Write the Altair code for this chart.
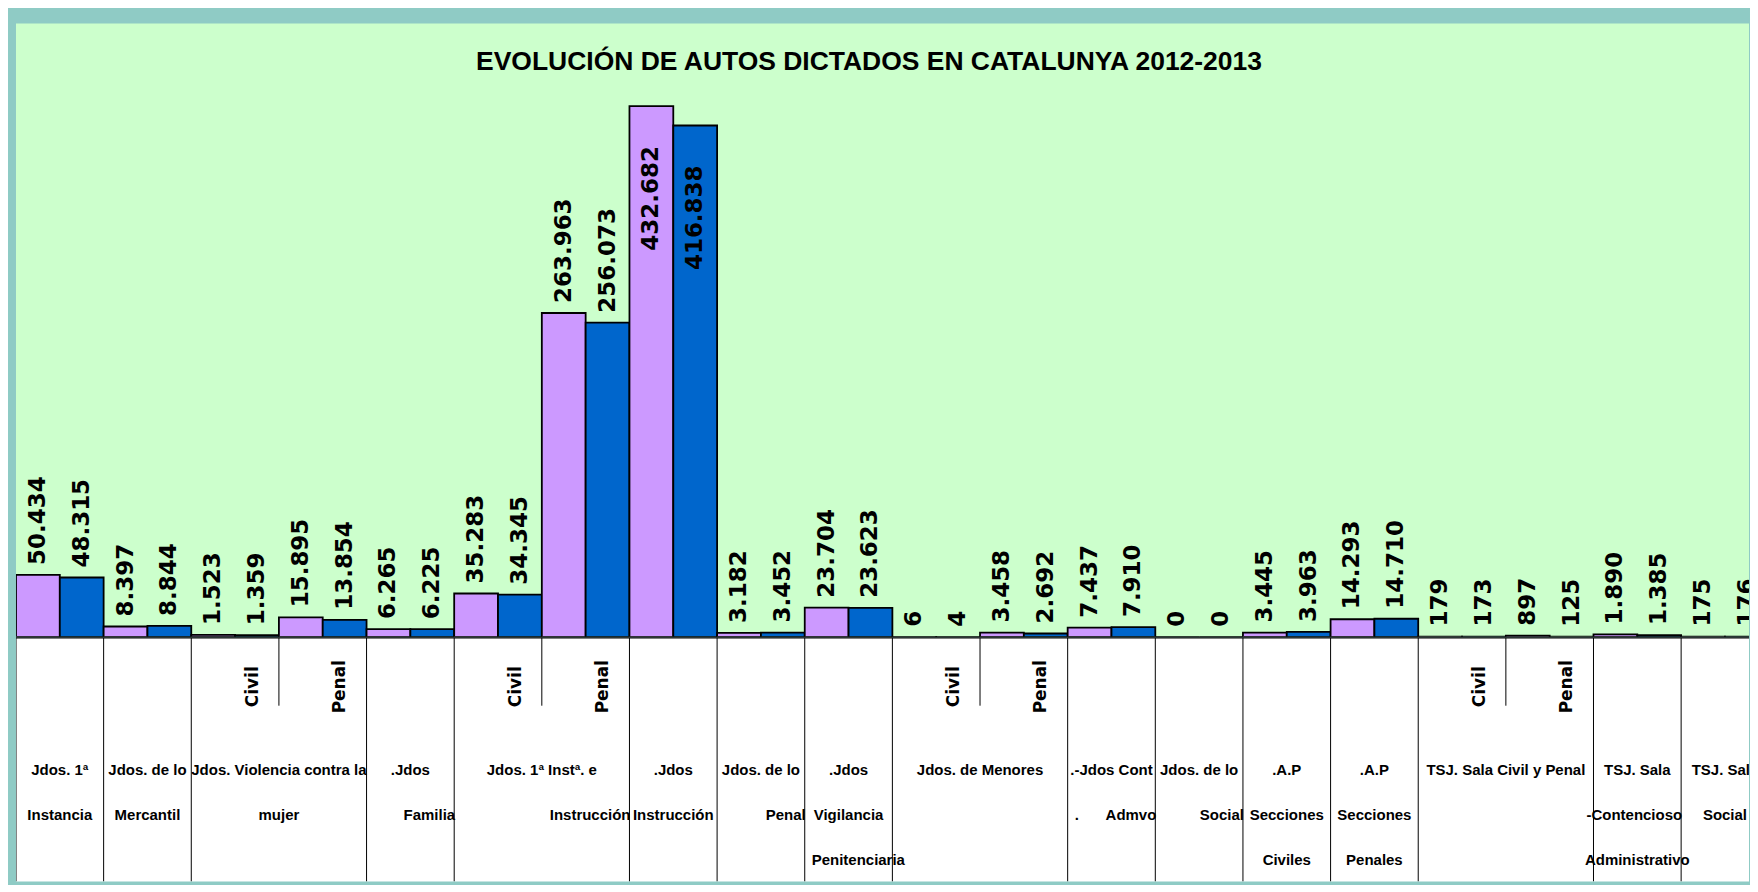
import altair as alt
import pandas as pd

# ---------------- data ----------------
TITLE = "EVOLUCIÓN DE AUTOS DICTADOS EN CATALUNYA 2012-2013"
SERIES = ["2012", "2013"]
COLORS = ["#CC99FF", "#0066CC"]

V2012 = [50434, 8397, 1523, 15895, 6265, 35283, 263963, 432682, 3182, 23704,
         6, 3458, 7437, 0, 3445, 14293, 179, 897, 1890, 175]
V2013 = [48315, 8844, 1359, 13854, 6225, 34345, 256073, 416838, 3452, 23623,
         4, 2692, 7910, 0, 3963, 14710, 173, 125, 1385, 176]

SUBLABELS = ["", "", "Civil", "Penal", "", "Civil", "Penal", "", "", "",
             "Civil", "Penal", "", "", "", "", "Civil", "Penal", "", ""]

# category text lines: (text, first column, last column, line number, alignment)
CAT_LINES = [
    ("Jdos. 1ª", 0, 0, 1, "center"), ("Instancia", 0, 0, 2, "center"),
    ("Jdos. de lo", 1, 1, 1, "center"), ("Mercantil", 1, 1, 2, "center"),
    ("Jdos. Violencia contra la", 2, 3, 1, "center"), ("mujer", 2, 3, 2, "center"),
    (".Jdos", 4, 4, 1, "center"), ("Familia", 4, 4, 2, "right"),
    ("Jdos. 1ª Instª. e", 5, 6, 1, "center"), ("Instrucción", 5, 6, 2, "right"),
    (".Jdos", 7, 7, 1, "center"), ("Instrucción", 7, 7, 2, "center"),
    ("Jdos. de lo", 8, 8, 1, "center"), ("Penal", 8, 8, 2, "right"),
    (".Jdos", 9, 9, 1, "center"), ("Vigilancia", 9, 9, 2, "center"),
    ("Penitenciaria", 9, 9, 3, "left"),
    ("Jdos. de Menores", 10, 11, 1, "center"),
    (".-Jdos Cont", 12, 12, 1, "center"), (".", 12, 12, 2, "left"), ("Admvo", 12, 12, 2, "right"),
    ("Jdos. de lo", 13, 13, 1, "center"), ("Social", 13, 13, 2, "right"),
    (".A.P", 14, 14, 1, "center"), ("Secciones", 14, 14, 2, "center"), ("Civiles", 14, 14, 3, "center"),
    (".A.P", 15, 15, 1, "center"), ("Secciones", 15, 15, 2, "center"), ("Penales", 15, 15, 3, "center"),
    ("TSJ. Sala Civil y Penal", 16, 17, 1, "center"),
    ("TSJ. Sala", 18, 18, 1, "center"), ("-Contencioso", 18, 18, 2, "right"),
    ("Administrativo", 18, 18, 3, "center"),
    ("TSJ. Sala", 19, 19, 1, "center"), ("Social", 19, 19, 2, "center"),
]
# dividers between a Civil and a Penal sub-column (shorter lines)
SHORT_DIVIDERS = [3, 6, 11, 17]

# ---------------- layout ----------------
PLOT_W = 1735
GROUP_PX = 87.74
XMAX = PLOT_W / GROUP_PX
TOP_H = 614
TABLE_H = 244
YMAX = 500000
LINE_Y = {1: 132, 2: 177, 3: 222}
LABEL_FONT = "Liberation Sans"
NUM_FONT = "DejaVu Sans"

def fmt(v):
    return f"{v:,}".replace(",", ".")

n = len(V2012)
rows = []
for g in range(n):
    for k, (s, vals) in enumerate(zip(SERIES, [V2012, V2013])):
        x0 = g + 0.5 * k
        rows.append({"g": g, "series": s, "value": vals[g], "x0": x0, "x1": x0 + 0.5,
                     "xc": x0 + 0.25, "label": fmt(vals[g])})
bars = pd.DataFrame(rows)

xs = alt.Scale(domain=[0, XMAX], nice=False, zero=False)
ys = alt.Scale(domain=[0, YMAX], nice=False, zero=True)

base = alt.Chart(bars)
bar = base.mark_rect(stroke="black", strokeWidth=1.8, clip=True).encode(
    x=alt.X("x0:Q", scale=xs, axis=None),
    x2="x1:Q",
    y=alt.Y("value:Q", scale=ys, axis=None),
    y2=alt.datum(0),
    color=alt.Color("series:N", scale=alt.Scale(domain=SERIES, range=COLORS), legend=None),
)
lab_out = base.transform_filter("datum.value < 400000").mark_text(
    angle=270, align="left", baseline="middle", dx=10, font=NUM_FONT, fontWeight="bold",
    fontSize=23, color="black", clip=True
).encode(x=alt.X("xc:Q", scale=xs), y=alt.Y("value:Q", scale=ys), text="label:N")
lab_in = base.transform_filter("datum.value >= 400000").mark_text(
    angle=270, align="right", baseline="middle", dx=-40, font=NUM_FONT, fontWeight="bold",
    fontSize=23, color="black", clip=True
).encode(x=alt.X("xc:Q", scale=xs), y=alt.Y("value:Q", scale=ys), text="label:N")

title = alt.Chart(pd.DataFrame({"t": [TITLE]})).mark_text(
    align="center", baseline="alphabetic", font=LABEL_FONT, fontWeight="bold", fontSize=26.5,
    color="black"
).encode(x=alt.value(854), y=alt.value(47), text="t:N")

top = alt.layer(bar, lab_out, lab_in, title).properties(
    width=PLOT_W, height=TOP_H, view=alt.ViewBackground(fill="#CCFFCC", strokeWidth=0)
)

# ---------------- table ----------------
div = pd.DataFrame({"b": list(range(0, n + 1))})
div["top"] = 0
div["bot"] = [68 if b in SHORT_DIVIDERS else TABLE_H for b in div["b"]]
rules = alt.Chart(div).mark_rule(color="black", strokeWidth=1, clip=True).encode(
    x=alt.X("b:Q", scale=xs, axis=None),
    y=alt.Y("top:Q", scale=None),
    y2="bot:Q",
)
baseline = alt.Chart(pd.DataFrame({"a": [0]})).mark_rule(color="black", strokeWidth=1.2).encode(
    x=alt.value(0), x2=alt.value(PLOT_W), y=alt.value(0)
)

sub = pd.DataFrame({"g": list(range(n)), "t": SUBLABELS})
sub = sub[sub["t"] != ""].copy()
sub["x"] = sub["g"] + 0.7
sublab = alt.Chart(sub).mark_text(
    angle=270, align="center", baseline="middle", font=NUM_FONT, fontWeight="bold",
    fontSize=17, color="black", clip=True
).encode(x=alt.X("x:Q", scale=xs), y=alt.value(49), text="t:N")

cat = pd.DataFrame(CAT_LINES, columns=["t", "s", "e", "line", "align"])
cat["x"] = [
    (r.s + r.e + 1) / 2 if r.align == "center" else (r.e + 1 if r.align == "right" else r.s)
    for r in cat.itertuples()
]
cat["py"] = cat["line"].map(LINE_Y)
cat_layers = []
for al, dx in [("center", 0), ("right", 1), ("left", 7)]:
    cat_layers.append(
        alt.Chart(cat).transform_filter(f"datum.align == '{al}'").mark_text(
            align=al, baseline="middle", dx=dx, font=LABEL_FONT, fontWeight="bold",
            fontSize=15, color="black", clip=True
        ).encode(x=alt.X("x:Q", scale=xs), y=alt.Y("py:Q", scale=None), text="t:N")
    )

table = alt.layer(rules, baseline, sublab, *cat_layers).properties(
    width=PLOT_W, height=TABLE_H, view=alt.ViewBackground(fill="white", strokeWidth=0)
)

chart = alt.vconcat(top, table, spacing=0).properties(
    padding={"left": 7, "top": 15, "right": 0, "bottom": 3},
    background="#8FCBC5",
).configure_view(strokeWidth=0)

chart.save("out.html", embed_options={"renderer": "svg", "actions": False})
